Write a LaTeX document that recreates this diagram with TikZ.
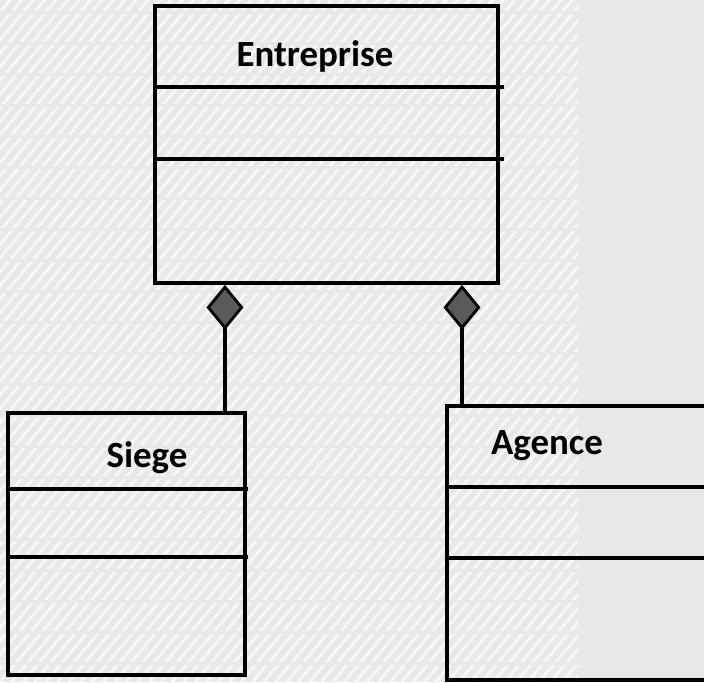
\documentclass[tikz,border=0pt]{standalone}
\usepackage{fontspec}
\setmainfont{Carlito}
\usetikzlibrary{arrows.meta,patterns.meta}
\definecolor{bggray}{HTML}{E8E8E8}
\definecolor{hatch}{HTML}{F7F7F7}
\definecolor{dgray}{HTML}{5A5A5A}
\tikzset{
  classbox/.style={draw=black,line width=2.2pt,rectangle,inner sep=0pt},
  sep/.style={line width=2pt,black},
  cname/.style={font=\fontsize{21}{24}\selectfont\bfseries,anchor=base,inner sep=0pt},
  comp/.style={line width=2.2pt,
    -{Diamond[length=0.9cm,width=0.74cm,fill=dgray,line width=1.6pt]}}
}

\begin{document}
\begin{tikzpicture}[x=1cm,y=1cm]
  \clip (0,0) rectangle (14.08,13.64);
  \useasboundingbox (0,0) rectangle (14.08,13.64);
  % background with hatched left part
  \fill[bggray] (0,0) rectangle (14.08,13.64);
  \fill[pattern={Lines[angle=50,distance=5pt,line width=1.7pt]},pattern color=hatch]
    (0,0) rectangle (11.56,13.64);
  \foreach \k in {0,...,21}
    \draw[bggray,line width=0.06cm] (0,13.38-0.62*\k) -- (11.56,13.38-0.62*\k);

  % classes
  \node[classbox,minimum width=6.86cm,minimum height=5.54cm] (ent) at (6.53,10.75) {};
  \node[classbox,minimum width=4.74cm,minimum height=5.24cm] (siege) at (2.53,2.76) {};
  \node[classbox,minimum width=5.66cm,minimum height=5.48cm] (agence) at (11.77,2.78) {};

  \node[cname] (entname) at (6.30,12.30) {Entreprise};
  \node[cname] (siegename) at (2.94,4.30) {Siege};
  \node[cname] (agencename) at (10.94,4.56) {Agence};

  % compartment lines
  \draw[sep] (ent.north west) ++(0,-1.66) -- ++(7.02,0);
  \draw[sep] (ent.north west) ++(0,-3.10) -- ++(7.02,0);
  \draw[sep] (siege.north west) ++(0,-1.56) -- ++(4.84,0);
  \draw[sep] (siege.north west) ++(0,-2.92) -- ++(4.84,0);
  \draw[sep] (agence.north west) ++(0,-1.66) -- ++(5.66,0);
  \draw[sep] (agence.north west) ++(0,-3.08) -- ++(5.66,0);

  % composition links
  \coordinate (sx) at (4.50,0);
  \coordinate (ax) at (9.24,0);
  \draw[comp] (sx |- siege.north) -- (sx |- ent.south);
  \draw[comp] (ax |- agence.north) -- (ax |- ent.south);
\end{tikzpicture}
\end{document}
